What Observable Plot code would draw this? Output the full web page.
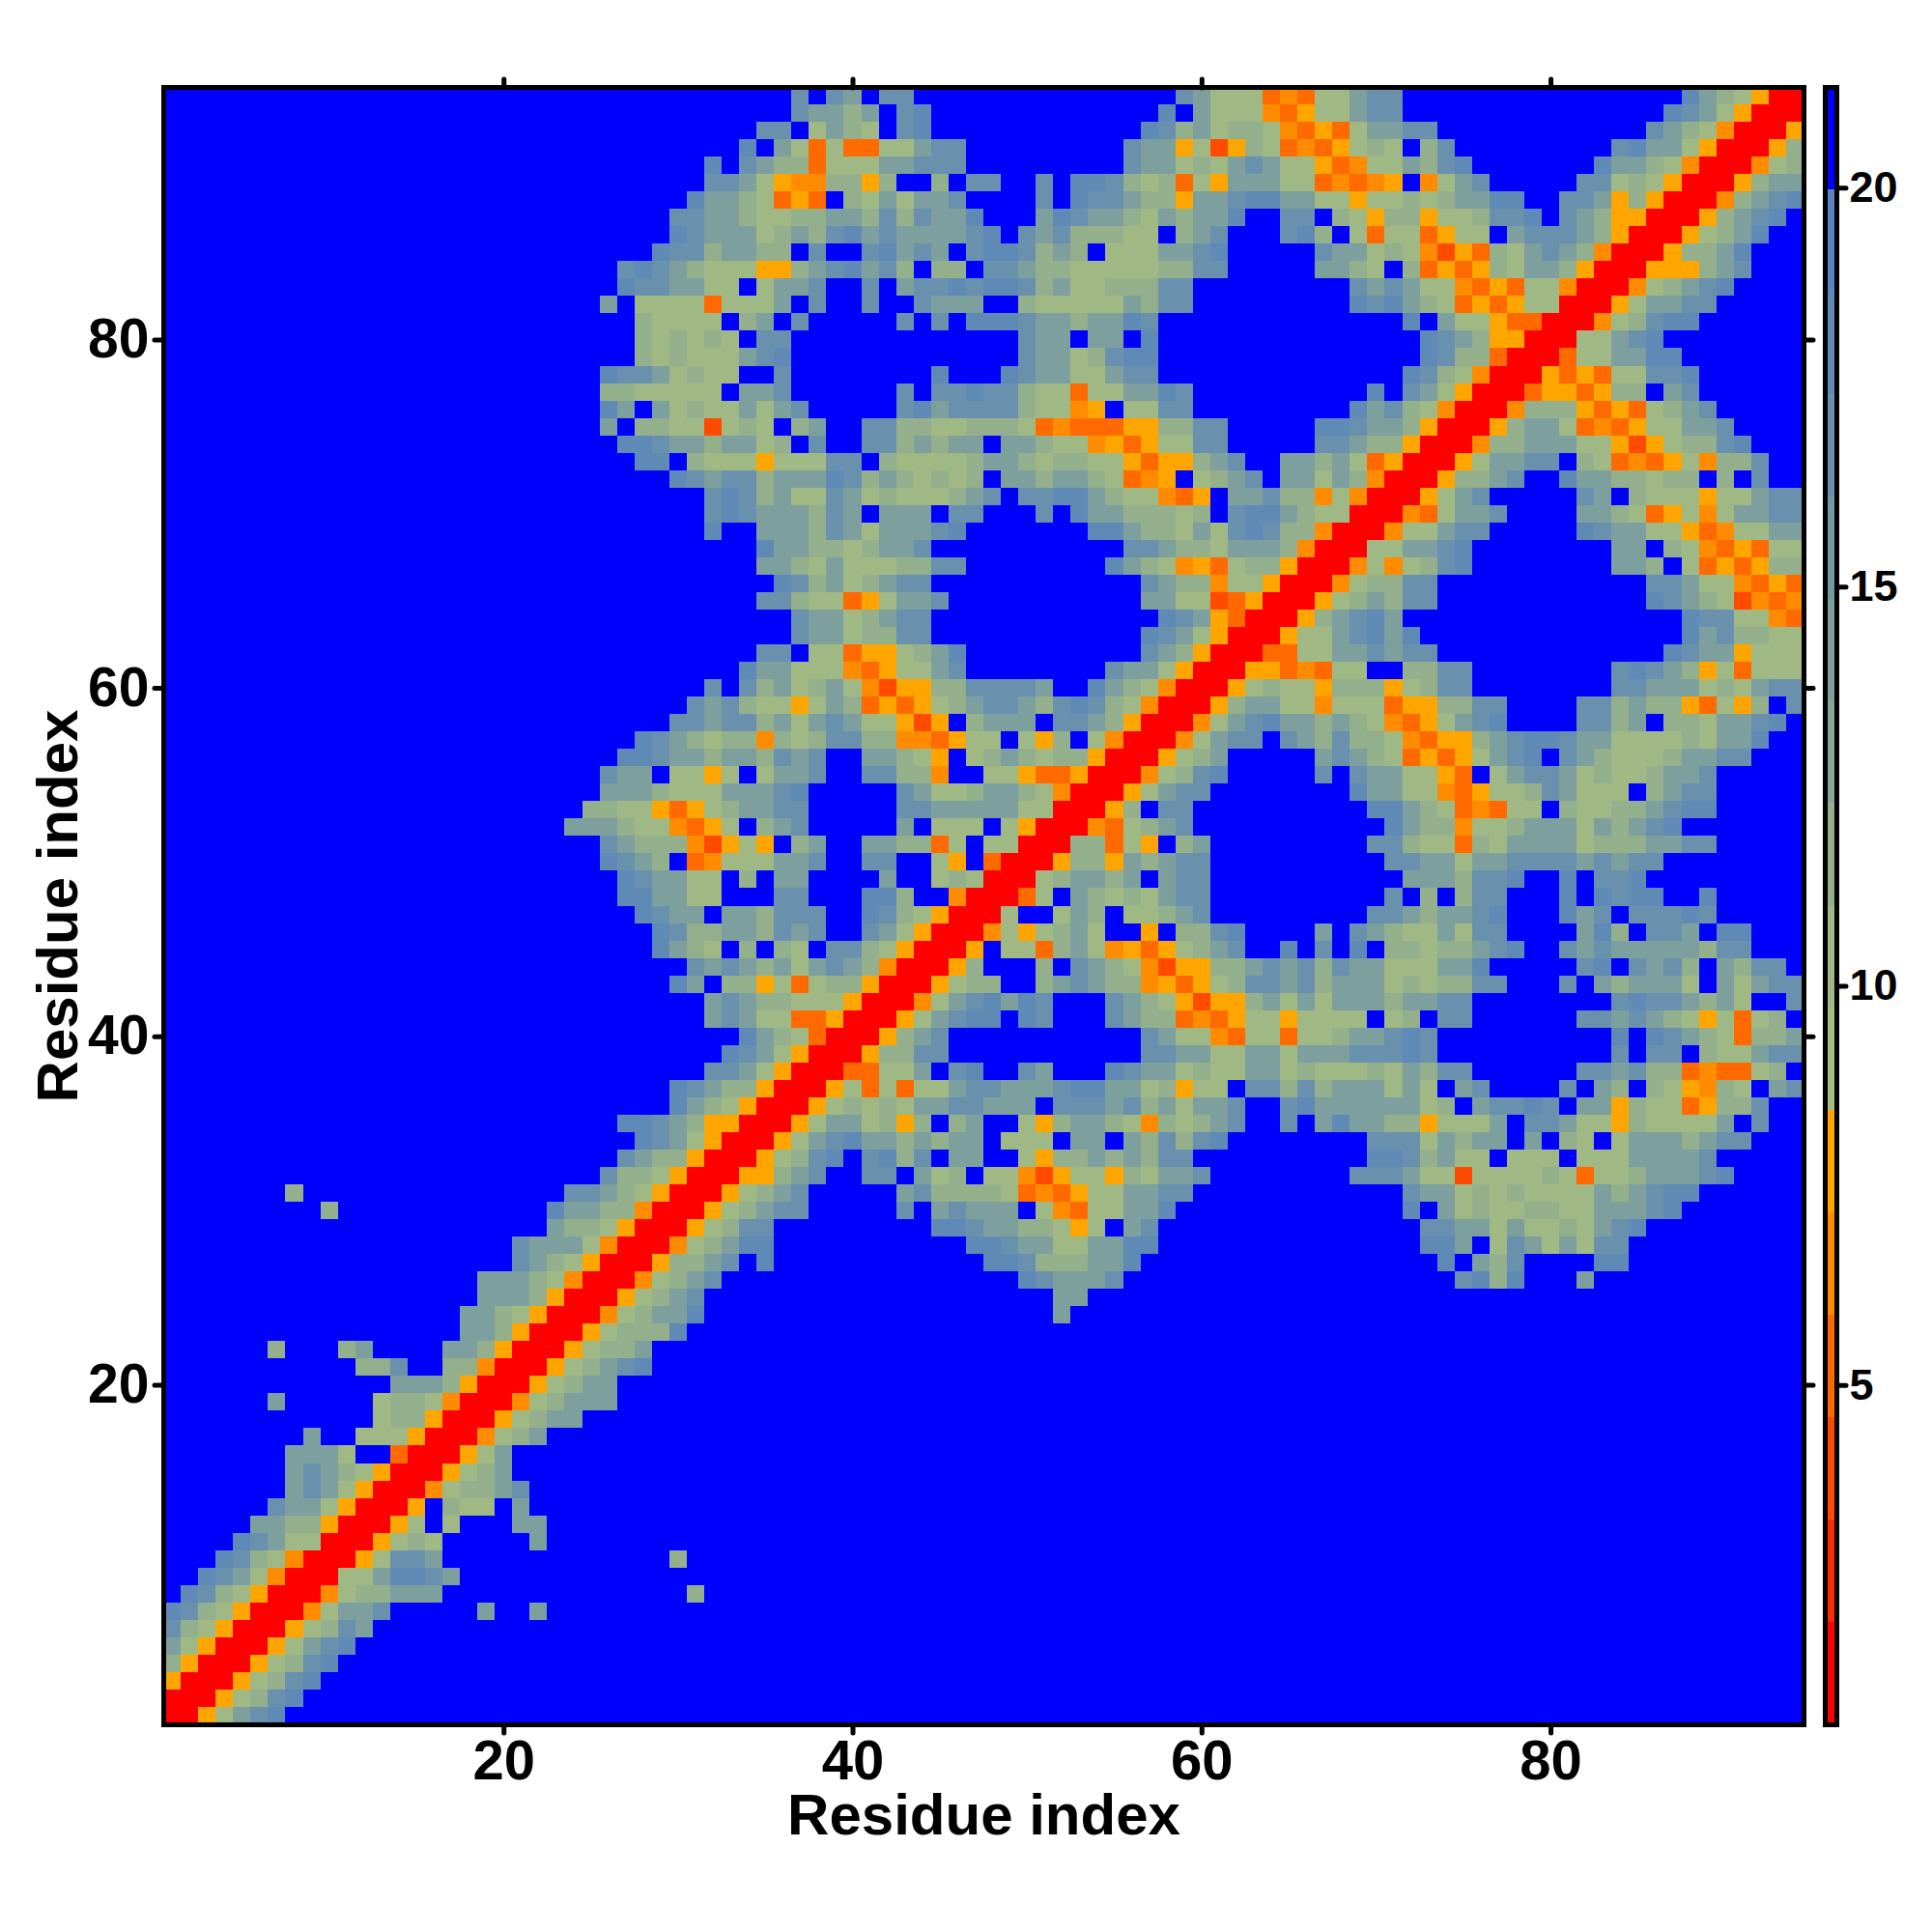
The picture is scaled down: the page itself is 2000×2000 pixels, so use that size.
<!DOCTYPE html>
<html>
<head>
<meta charset="utf-8">
<script src="https://cdn.jsdelivr.net/npm/d3@7"></script>
<script src="https://cdn.jsdelivr.net/npm/@observablehq/plot@0.6"></script>
<style>
html,body{margin:0;padding:0;background:#fff}
#wrap{position:relative;width:2000px;height:2000px}
#wrap svg{position:absolute;top:0;left:0;background:transparent}
</style>
</head>
<body>
<div id="wrap"></div>
<script>
// Contact-map rows, top (residue 94) to bottom (residue 1). "col:codes" runs; anything not listed is "." (beyond scale).
const rowRuns = [
"37:D.DC.DD 59:DCAAAonoAACDD 88:ECBAyrr",
"37:DCCBC.DE 58:E.CAAAnoyAACDD 87:EDCAyrrr",
"35:DD.ACBA.DE 57:EDBCABBAnoyoACCDD 86:DCBAnrrry",
"34:E.CAoAooAACDD 56:DCCyAdyBAonoyABA.BD 84:DECCAyrrryB",
"32:E.DCBBoAAACCDDD 56:DCCABACDCAAyonAACBDE 83:ECCBAnrrrnAB",
"32:DDCAynnBByB..B.DD 51:D.EEDBAB 59:oAyCCCAAonony.nACD 82:DDABAyrrryBCC",
"31:ECCBAoyo.BACACCD 51:D.EDDCBByCCDEECCAAyAABABCCEE 81:DDCyByrrrnBCDE",
"30:DDCCBAABBCCBDBDCCE 51:CEDCCBACBCCE..DD.BAyBByAABDDE. 81:DCByyrrryBCDE",
"30:EDCCCABCBDECDCCCCDE.DCDBBBAA. 59:BCD...DEB.AoAAoyAA.CDDDCByrrryABCE",
"29:EDDBCCBB.D..DECDC.DEEDBCB.AAAC 59:CDE.....DCCABAndyoBACDCBnrrryBBCE",
"27:DEDCBAAAyyBCDECDB.BB.DDCBBAAAAAB 59:BDD.....CCBA.BoyoyBACCByrrryyyBCD",
"27:EDDCCAA.ACCD..D.CDDEDEEDBCAABBBD 59:D 69:DCDCAAnoyoAAnrrrnABCDE",
"26:C.AAAAoAAAC.D 41:D 44:DCCC..BAAAAACBDD 69:EDECBAoyoyAArrryACCDD",
"28:BAAAA.BC.D 43:D.D.EEEDCCBCCED 72:E.CAAyoorrrnABDEE",
"28:BABABA.DD 50:DCC.CC.E 73:EDCByyrrrAACDE",
"28:BABAAACDE 50:DCCABDEE 73:EDBBorrroAACCEE",
"26:EDDCABAA..D 45:E 49:EDCCAACDD 72:EDBAnrrryoyoAADDE",
"26:BBAAAAA.CCD 43:D.DDEDDBAAoAACCED 70:E.DCAyrrroyyoyBB.CD",
"26:EC.CABAACACD 43:DECDDDDBAAny.AADD 69:ECDBAnrrrnBBByoyoABCD",
"26:C.BBAAdABA.BC 41:DDBBAABBBAonoooyyBBDD 67:EEDCCByrrryBCCAonoyAACCD",
"27:EEDCCBCCAB.D 41:DDBCBCC.CCBAAnyoyAADD 67:DDCBByrrrnBBCCCAAydyABBDE",
"28:EE.BAAAyAAADD.BAAAABCCBABBAAyoyy 60:BCD..CCBCAoyrrryACCDD.BAonoyAnBBD",
"30:EDCDDBCCCEDBCBABAB.CCBCCBAony 60:ABCD.CCACBnrrryBBCD..ECCBBABB.B.D",
"32:DEDBCAADCABAAABCD.DDEECBAAno 60:y.CCDBBnAnrrryACD 82:DC.BAAAyAACDD",
"32:DEDCCCBDC.CCC.DD 51:D.ECCBBBAB.DEECBAArrrnoACCD 82:CCBAoyAnACCDD",
"32:E 35:CCCBDCACCCDE 54:EECBBACADEDBBnrrrnAACDD 82:EDCCAAyonAACC",
"35:ECCBBABCCD 56:DDCBBACCCBnrrrAACCDE 84:CC.BAnoyoAA",
"35:CCBACAAABBDD 55:ECBAnyoABByrrrnAnABDE 84:CCB.AoyoyBB",
"36:EDBCABCDD 57:DCBBnAAyrrrnABBDD 86:DDCAAnoyo",
"35:DDBAAoyACCD 57:CCAAdoyrrryABCBDD 86:EDCBAdnon",
"37:DCCABCDD 58:EDCyorrryBCDEC 88:EDDAAno",
"37:DCCABBDD 57:EDCAyrrryAACDECE 88:ECDBBAA",
"35:DD.AAoyyABCE 57:DCByrrrooAACCDCDD 87:EDCCyAAA",
"34:ECCAAAnoyAACD 55:DCCAyrrryyonoAA..BBDD 84:DEDCByAoAAA",
"32:D.DBCABCAndyyBBDDDDC 54:ECBAnrrryABAAyBBByABDD 84:DDCCCABACDD",
"31:DCDBAAyACBoyoyABCDDCBDEDBAnrrryBCCAAnAAAoyyBBDD 82:DDBCBByoAyB.D",
"30:DDCDDBCACDCAAydy.BCCC.DDCByrrr 60:nACDECCBCBAnoyACDE 82:DDBC.BBACCDE",
"28:EDCBABBnBABDDBBnnoyAA.AyB.Anrrr 59:nACDD.DCBDBBAnoyyBCDEEDCCAAAABACCE",
"27:EEDCCBCCBDCD 41:CCBAy.ABCBABByrrry 59:ABC 67:CDCBAoyoyACDE.DCBAAABCCDD",
"26:DCC.AAyA.ACCD 41:DDBBn..AAyooyrrrnABDE 67:D.DCCAAyo.ACDDCABAABCCD",
"26:CCCBAAACCCDE 43:DCAABCCBAnrrryACDD 69:ECCAAnoyAABDCAAA.BCDD",
"25:BBAAyoyABCCDD 43:DDCCCCCAArrryB.DD 70:EECBAonoAA.BAABBCDEE",
"24:CCCBAAnoyA.BCD 43:C.AAA.AyrrrnoABCD 71:ECBBnAABCCCACBCDE",
"26:DCBBBndyAy.BC 41:CCBBoA.AArrrBBoAy.BC 70:DDBAAoBACCCCABBBCCDD",
"26:EDCB.onAAACCD 41:DD..Ay.orrryBByCBCDD 71:DDCCACCDDDDCDCDD",
"27:EDCCAA.B.CC 42:C 45:ABArrrABCCBC.CDD 72:CCCBDDE 81:E.DDE",
"27:EECCAA...DD 41:EEB..nrrroA.CBABACDD 71:D.B.BDD 81:E.EDEE 89:E",
"28:EDCC.CCBDDD 41:EDBAyrrrA..ACB.AABCD 70:DDCBCCDE 81:ECD.DDDED",
"29:EDBBCCBDCD 41:DCAyrrrnAyABCA..y.BBDE 67:C.DCBAACADD 82:CEB.DDC.EE",
"29:ECBA.B.BA.DDBAyrrry.AAoBCAnyoy 59:ABCD 65:E.D.E.BBABBCDE 81:DCDCCCCCBDD",
"31:DCDCBCACDCBnrrryB 51:B.DCBAndyyBBCDCDBDCCAAACCE 82:DE.DCDB.CBDD",
"30:EC.BByAoABByrrryABB 51:BCDCBBnyoyABDDCDBCCCABABBDD 81:D.CBCCCA.CACDD",
"32:CDCBBAAAyrrrnACDECED 55:DCBAydyyBCACACCCBCCDD 84:DEDDCBCA..D",
"32:CDCAAooyrrryACDEE.ED 55:DCBBonoyAAyAAAA.AB.DD 82:DDCDCBAyAoAB.",
"34:ECBAorrryBCD 57:DCAAnoAAoAABCCDED 84:E.EDCBAoBBC",
"33:EDCAyrrryBBDD 57:DDCCAACCACCCDDDED 84:D.DD.BAACDD",
"32:DDCAyrrrooAAC.DE 50:DC 55:EDCCABAACCABAAABACBDD 82:DDCDBBonooAB.",
"30:EDCBByrrryAoAoAACDDCCCDEECCABy 60:AA.DDBDBCCCACA.CD 81:D.CB.BAynBA.CD",
"30:ECBAyrrryABABACCDDCCC.DDDCDBC 59:ACCD 65:DECCCCCCAB.CDDED.CCyBAAoyBBD",
"27:EEDCByyrrryACCAByB.BC..AyBCCBAnBABCD 65:D.CECCBByAAAC.DDCAAyBAAAAC.D",
"28:EDCAyrrryACDECCBCBCC.AAA.CC.CBD 59:BDE 70:DDDACBCC.C.BA.ACCCBCDD",
"27:DCBByrrryABDE.DEBD.CC..AyBBCBCBDD 70:EEDBCAA.AAA.AAACCCCD",
"26:DBBAyrrryyBCD 41:DD.CAB.AAndyAAyBACCD 69:DDDCAAdAAAABAoAABCCCDE",
"8:B 24:DDCBAyrrryABCD 43:CDBBBBAonoyAACCDD 72:DCCABABAAAACBCDEE",
"10:B 23:ECCBBnrrryABCDD 43:D.CDCCC.AnoAACCE 72:E.CABAABBAACCCDE",
"23:CBBAyrrryABDD 45:EEDCCBBAyA.CD 73:DDCCACAABACDE",
"21:DCCCAnrrrnABCEE 47:EEDCCAACCEE 73:EEC.ADCACADD",
"21:DCBAyrrryBBCD.E 48:EEDBBBCCE 74:E.CBD 83:EE",
"19:CCCBAnrrrnABCD 50:EDCCCD 75:DEBE 82:C",
"19:CCCByrrryABCD 52:CC",
"18:CCBAyrrrnABCCE 52:C",
"18:CCByrrryABBBE",
"7:B 11:BC 17:CCByrrryABBC",
"12:BBD 17:BBnrrryABCDE",
"14:CCCByrrryABCC",
"7:C 13:ABBAnrrrnABCCC",
"13:ABByrrryABCC",
"9:C 12:AAAyrrrnABC",
"8:CCCA 14:orrryAC",
"8:CDCBAyrrryABC",
"8:CDCAyrrrnABBCD",
"7:DCCAyrrry.BAA.C",
"6:CCBByrrryA.A 21:CC",
"5:EDCAArrryABA 22:C",
"4:EDBAnrrryADDC 30:B",
"3:EDCAnrrrAACEEDC",
"2:EDBAyrrrnABBCCC 31:B",
"1:EDBAyrrrnACCD 19:C 22:C",
"1:DBAyrrryABDC",
"1:CAyrrryACDE",
"1:ByrrryABDE",
"1:yrrryABDE",
"1:rrryABDE",
"1:rryACDE"
];
// value for each code
const codeValues = {r:1.39, d:3.95, o:5.24, n:6.52, y:7.80, A:10.36, B:11.64, C:14.21, D:16.77, E:18.05, ".":20.62};
// colour bar
const barEdges = [0.75,2.03,3.31,4.60,5.88,7.16,8.44,9.72,11.0,12.29,13.57,14.85,16.13,17.41,18.7,19.98,21.26];
const barColors = ["#ff0000","#ff2a00","#ff4a00","#ff6a00","#ff8c00","#ffa500","#a5bd81","#a0b984","#94af8c","#87a695","#7d9f9d","#7398a5","#6991ad","#5f8ab5","#5885bd","#0000ff"];
const axisTicks = [20,40,60,80];
const barTicks = [5,10,15,20];
const axisTitle = ["Residue index"];
const N = 94;

const cells = [];
rowRuns.forEach((line,i)=>{
  const row = N-i;
  const codes = new Array(N).fill(".");
  line.split(" ").forEach(run=>{
    const [start,str] = run.split(":");
    [...str].forEach((ch,k)=>{const c=+start+k-1; if(c<N) codes[c]=ch;});
  });
  codes.forEach((ch,c)=>cells.push({x:c+1,y:row,v:codeValues[ch]}));
});
const bands = barColors.map((color,i)=>({y1:barEdges[i],y2:barEdges[i+1],color}));

const font = "'Liberation Sans',Arial,sans-serif";
const tickStyle = {strokeWidth:5,strokeLinecap:"round"};
const blank = ()=>"";
const main = Plot.plot({
  width:2000,height:2000,
  marginLeft:169,marginRight:133,marginTop:90,marginBottom:215,
  style:{fontFamily:font,fontWeight:"bold",background:"transparent"},
  x:{domain:[0.5,N+0.5]},
  y:{domain:[0.5,N+0.5]},
  color:{type:"threshold",domain:barEdges.slice(1,-1),range:barColors},
  marks:[
    Plot.rect(cells,{x1:d=>d.x-0.5,x2:d=>d.x+0.5,y1:d=>d.y-0.5,y2:d=>d.y+0.5,fill:"v",shapeRendering:"crispEdges"}),
    Plot.axisX({anchor:"bottom",ticks:axisTicks,tickSize:9,tickPadding:6,fontSize:58,label:null,...tickStyle}),
    Plot.axisX({anchor:"top",ticks:axisTicks,tickSize:9,tickFormat:blank,label:null,...tickStyle}),
    Plot.axisY({anchor:"left",ticks:axisTicks,tickSize:9,tickPadding:6,fontSize:57,label:null,...tickStyle}),
    Plot.axisY({anchor:"right",ticks:axisTicks,tickSize:9,tickFormat:blank,label:null,...tickStyle}),
    Plot.text(axisTitle,{frameAnchor:"bottom",dy:94,fontSize:60,fontWeight:"bold",lineAnchor:"middle"}),
    Plot.text(axisTitle,{frameAnchor:"left",dx:-109,rotate:-90,fontSize:60,fontWeight:"bold",lineAnchor:"middle",textAnchor:"middle"}),
    Plot.frame({stroke:"#000",strokeWidth:5})
  ]
});
const legend = Plot.plot({
  width:2000,height:2000,
  marginLeft:1889,marginRight:99,marginTop:90,marginBottom:215,
  style:{fontFamily:font,fontWeight:"bold",background:"transparent"},
  x:{domain:[0,1],axis:null},
  y:{domain:[barEdges[0],barEdges[barEdges.length-1]]},
  marks:[
    Plot.rect(bands,{x1:0,x2:1,y1:"y1",y2:"y2",fill:"color",shapeRendering:"crispEdges"}),
    Plot.axisY({anchor:"right",ticks:barTicks,tickSize:9,tickPadding:4,fontSize:45,label:null,...tickStyle}),
    Plot.frame({stroke:"#000",strokeWidth:5})
  ]
});
document.getElementById("wrap").append(main,legend);
</script>
</body>
</html>
